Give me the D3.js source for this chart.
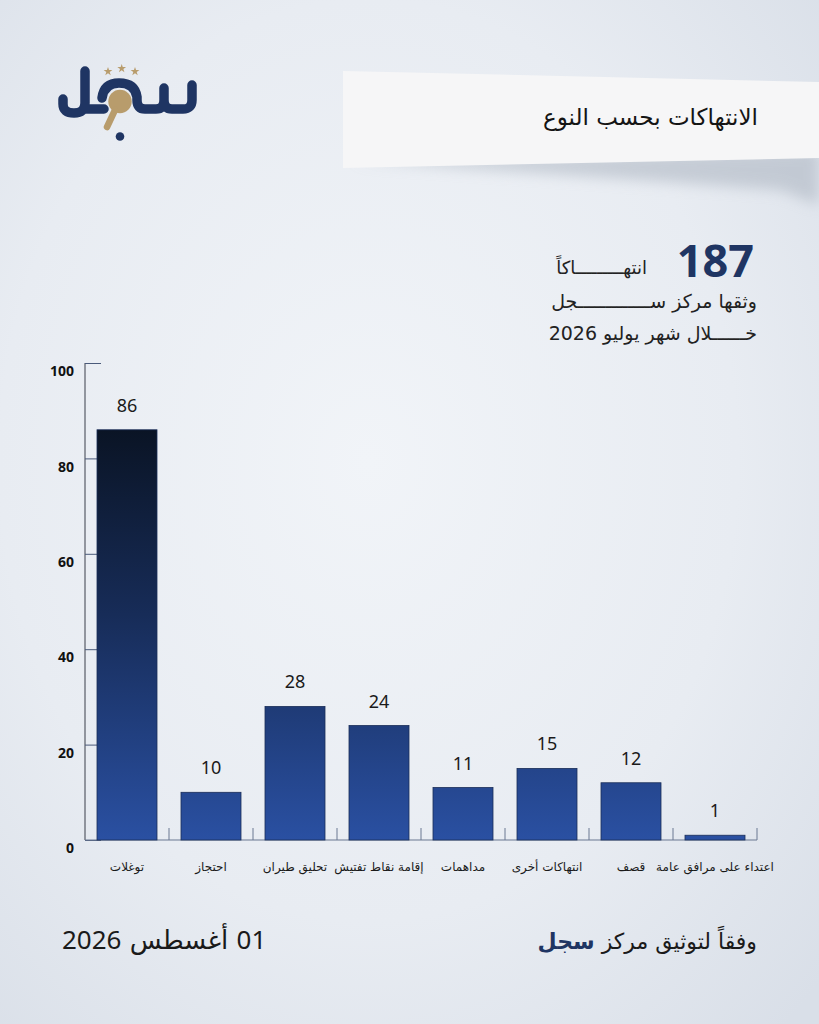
<!DOCTYPE html>
<html>
<head>
<meta charset="utf-8">
<script src="https://cdn.jsdelivr.net/npm/d3@7"></script>
<style>
  html, body { margin: 0; padding: 0; background: #eaeef4; }
  svg { display: block; }
</style>
</head>
<body>
<svg width="819" height="1024"></svg>
<script>
// data
const categories = ["توغلات", "احتجاز", "تحليق طيران", "إقامة نقاط تفتيش", "مداهمات", "انتهاكات أخرى", "قصف", "اعتداء على مرافق عامة"];
const counts = [86, 10, 28, 24, 11, 15, 12, 1];
const yTicks = [0, 20, 40, 60, 80, 100];

const titleText = "الانتهاكات بحسب النوع";
const totalCount = 187;
const totalLabel = "انتهـــــــــاكاً";
const subLine1 = "وثقها مركز ســـــــــــــجل";
const subLine2 = "خـــــــلال شهر يوليو 2026";
const footerSource = "وفقاً لتوثيق مركز ";
const footerBrand = "سجل";
const footerDate = "01 أغسطس 2026";

const width = 819, height = 1024;
const navy = "#1f3563", gold = "#b89c6c";
const latin = "'Noto Sans', 'DejaVu Sans', sans-serif";
const arabic = "'DejaVu Sans', 'Noto Sans', sans-serif";

const svg = d3.select("svg");
const defs = svg.append("defs");

// background
const bg = defs.append("radialGradient").attr("id", "bg")
    .attr("cx", "0.45").attr("cy", "0.45").attr("r", "0.75");
bg.append("stop").attr("offset", "0").attr("stop-color", "#f1f4f8");
bg.append("stop").attr("offset", "0.6").attr("stop-color", "#e8ecf2");
bg.append("stop").attr("offset", "1").attr("stop-color", "#d9dfe8");
svg.append("rect").attr("width", width).attr("height", height).attr("fill", "url(#bg)");

// chart scales
const chartMargin = {top: 363, left: 85, right: 62, bottom: 184};
const chartHeight = height - chartMargin.top - chartMargin.bottom; // 477

const y = d3.scaleLinear().domain([0, 100]).range([chartHeight, 0]);
const x = d3.scaleBand()
    .domain(categories)
    .range([0, 672])
    .paddingInner(24 / 84)
    .paddingOuter(12 / 84);

// bar gradient, in chart space so short bars get the lighter part
const barGrad = defs.append("linearGradient").attr("id", "barGrad")
    .attr("gradientUnits", "userSpaceOnUse")
    .attr("x1", 0).attr("x2", 0)
    .attr("y1", y(86)).attr("y2", y(0));
barGrad.append("stop").attr("offset", "0").attr("stop-color", "#0a1425");
barGrad.append("stop").attr("offset", "0.45").attr("stop-color", "#172c58");
barGrad.append("stop").attr("offset", "1").attr("stop-color", "#2a50a2");

// title banner
const blur = defs.append("filter").attr("id", "blur")
    .attr("x", "-20%").attr("y", "-50%").attr("width", "140%").attr("height", "200%");
blur.append("feGaussianBlur").attr("stdDeviation", 7);

svg.append("path")
    .attr("d", "M350,160 L819,150 L819,205 L780,190 Z")
    .attr("fill", "#aab3bf")
    .attr("opacity", 0.55)
    .attr("filter", "url(#blur)");
svg.append("path")
    .attr("d", "M343,71 L819,82 L819,158 L343,168 Z")
    .attr("fill", "#f6f6f7");
svg.append("text")
    .attr("x", 758).attr("y", 125)
    .attr("direction", "rtl")
    .attr("text-anchor", "start")
    .attr("font-family", arabic)
    .attr("font-size", 23)
    .attr("fill", "#141414")
    .text(titleText);

// logo
const logo = svg.append("g");
logo.append("circle").attr("cx", 120).attr("cy", 101.5).attr("r", 11.7).attr("fill", gold);
logo.append("line")
    .attr("x1", 115).attr("y1", 110).attr("x2", 107).attr("y2", 127)
    .attr("stroke", gold).attr("stroke-width", 6.5).attr("stroke-linecap", "round");
logo.append("path")
    .attr("d", "M85,71 L85,103 Q85,113 74,113 Q63,113 63,104 L63,99 M85,109 L104,109 " +
               "M102,98 Q104,83 119,83 Q135,83 137,97 L137,100 Q137,109 145,109 L156,109 Q164,109 164,100 L164,88 " +
               "M164,100 Q164,109 172,109 L183,109 Q192,109 192,100 L192,85")
    .attr("fill", "none")
    .attr("stroke", navy)
    .attr("stroke-width", 9.5)
    .attr("stroke-linecap", "round")
    .attr("stroke-linejoin", "round");
logo.append("circle").attr("cx", 120).attr("cy", 136.5).attr("r", 4.3).attr("fill", navy);
const star = d3.symbol().type(d3.symbolStar).size(24);
[[108, 71.5], [121.7, 68.5], [135, 71.5]].forEach(p => {
    logo.append("path").attr("d", star()).attr("transform", `translate(${p[0]},${p[1]})`).attr("fill", gold);
});

// headline numbers
svg.append("text")
    .attr("x", 754).attr("y", 277)
    .attr("text-anchor", "end")
    .attr("font-family", latin)
    .attr("font-weight", 700)
    .attr("font-size", 45)
    .attr("fill", navy)
    .text(totalCount);
svg.append("text")
    .attr("x", 647).attr("y", 274)
    .attr("direction", "rtl")
    .attr("text-anchor", "start")
    .attr("font-family", arabic)
    .attr("font-size", 18)
    .attr("fill", "#222")
    .text(totalLabel);
[[subLine1, 308], [subLine2.replace("ـ", ""), 340]].forEach(d => {
    svg.append("text")
        .attr("x", 757).attr("y", d[1])
        .attr("direction", "rtl")
        .attr("text-anchor", "start")
        .attr("font-family", arabic)
        .attr("font-size", 19)
        .attr("fill", "#222")
        .text(d[0]);
});

// chart
const g = svg.append("g")
    .attr("transform", `translate(${chartMargin.left}, ${chartMargin.top})`);

const yAxis = d3.axisLeft(y).tickValues(yTicks).tickSize(-16).tickPadding(11);
const ya = g.append("g").call(yAxis);
ya.select(".domain").attr("d", `M0,0V${chartHeight}`).attr("stroke", "#3a3f4a");
ya.selectAll(".tick line").attr("stroke", "#4a5a7a");
ya.selectAll(".tick text")
    .attr("font-family", latin)
    .attr("font-weight", 700)
    .attr("font-size", 14)
    .attr("fill", "#111")
    .attr("dy", "0.9em");

// x axis baseline + separators
g.append("line")
    .attr("x1", 0).attr("x2", x.range()[1])
    .attr("y1", y(0)).attr("y2", y(0))
    .attr("stroke", "#6b7892").attr("stroke-width", 1.2);
g.selectAll(".sep").data(categories).enter().append("line")
    .attr("class", "sep")
    .attr("x1", d => x(d) + x.bandwidth() + x.step() * x.paddingInner() / 2)
    .attr("x2", d => x(d) + x.bandwidth() + x.step() * x.paddingInner() / 2)
    .attr("y1", y(0) - 12).attr("y2", y(0))
    .attr("stroke", "#6b7892");

g.selectAll(".bar").data(counts).enter().append("rect")
    .attr("class", "bar")
    .attr("x", (d, i) => x(categories[i]))
    .attr("y", d => y(d))
    .attr("width", x.bandwidth())
    .attr("height", d => y(0) - y(d))
    .attr("fill", "url(#barGrad)")
    .attr("stroke", "#1a2d58")
    .attr("stroke-width", 0.8);

g.selectAll(".val").data(counts).enter().append("text")
    .attr("class", "val")
    .attr("x", (d, i) => x(categories[i]) + x.bandwidth() / 2)
    .attr("y", d => y(d) - 18)
    .attr("text-anchor", "middle")
    .attr("font-family", latin)
    .attr("font-size", 18)
    .attr("fill", "#1a1a1a")
    .text(d => d);

g.selectAll(".cat").data(categories).enter().append("text")
    .attr("class", "cat")
    .attr("x", d => x(d) + x.bandwidth() / 2)
    .attr("y", y(0) + 31)
    .attr("direction", "rtl")
    .attr("text-anchor", "middle")
    .attr("font-family", arabic)
    .attr("font-size", 12)
    .attr("fill", "#1a1a1a")
    .text(d => d);

// footer
const src = svg.append("text")
    .attr("x", 757).attr("y", 949)
    .attr("direction", "rtl")
    .attr("text-anchor", "start")
    .attr("font-family", arabic)
    .attr("font-size", 22)
    .attr("fill", "#1a1a1a");
src.append("tspan").text(footerSource);
src.append("tspan").attr("font-weight", 700).attr("fill", navy).text(footerBrand);

svg.append("text")
    .attr("x", 62).attr("y", 949)
    .attr("direction", "rtl")
    .attr("text-anchor", "end")
    .attr("font-family", latin)
    .attr("font-size", 26)
    .attr("word-spacing", 1.5)
    .attr("fill", "#1a1a1a")
    .text(footerDate);
</script>
</body>
</html>
